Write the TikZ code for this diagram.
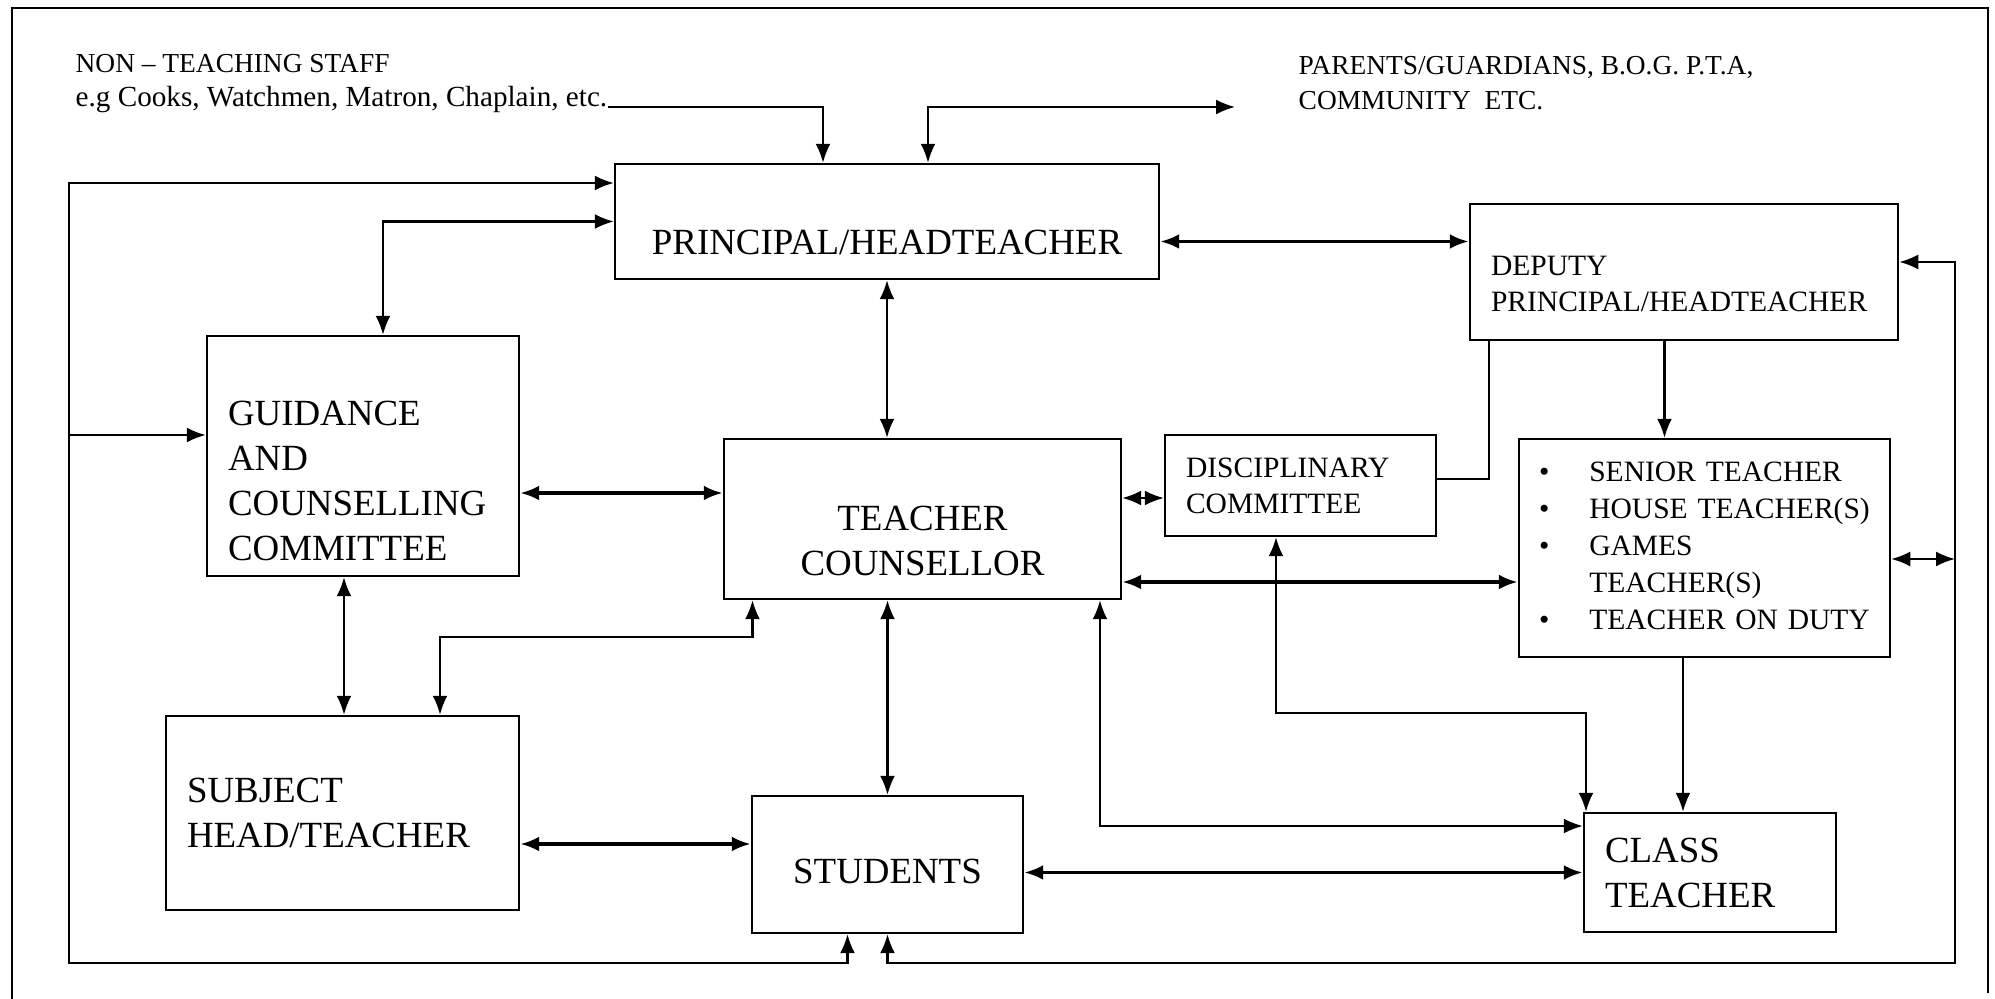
\documentclass[tikz,border=0pt]{standalone}
\usepackage{fontspec}
\setmainfont{Liberation Serif}
\usetikzlibrary{arrows.meta}

\begin{document}
\begin{tikzpicture}[
    >={Latex[length=1.9mm, width=1.5mm]},
    box/.style={rectangle, draw, line width=0.7pt, inner xsep=2.1mm, inner ysep=0pt, align=left, font=\fontsize{10.5}{12.8}\selectfont},
    smallbox/.style={box, font=\fontsize{8.4}{10.2}\selectfont},
    note/.style={anchor=base west, inner sep=0pt, font=\fontsize{7.8}{9.5}\selectfont},
    arrow/.style={->, line width=0.6pt},
    twoway/.style={<->, line width=0.6pt},
    link/.style={line width=0.6pt},
    boldline/.style={line width=1pt},
]

%Background
\useasboundingbox (0,0) rectangle (19.95,9.99);
\fill[white] (0,0) rectangle (19.95,9.99);
\draw[line width=0.6pt] (0.12,0) -- (0.12,9.91) -- (19.88,9.91) -- (19.88,0.06);

% Outside groups
\node[note] (staff) at (0.75,9.26) {NON -- TEACHING STAFF};
\node[note, font=\fontsize{8.3}{9.5}\selectfont] (staff_eg) at (0.75,8.92) {e.g Cooks, Watchmen, Matron, Chaplain, etc.};
\node[note] (parents) at (12.98,9.24) {PARENTS/GUARDIANS, B.O.G. P.T.A,};
\node[note] (community) at (12.98,8.89) {COMMUNITY~~ETC.};

% Heads
\node[box, minimum width=5.44cm, minimum height=1.15cm, text height=0.66cm] (principal) at (8.87,7.775) {PRINCIPAL/HEADTEACHER};
\node[smallbox, minimum width=4.28cm, minimum height=1.36cm, text width=3.86cm, text height=0.44cm] (deputy) at (16.84,7.27) {DEPUTY\\PRINCIPAL/HEADTEACHER};

% Middle row
\node[box, minimum width=3.12cm, minimum height=2.4cm, text width=2.7cm, text height=0.75cm] (guidance) at (3.63,5.43) {GUIDANCE\\AND\\COUNSELLING\\COMMITTEE};
\node[box, minimum width=3.97cm, minimum height=1.6cm, text width=3.55cm, align=center, text height=0.69cm] (counsellor) at (9.225,4.80) {TEACHER\\COUNSELLOR};
\node[smallbox, minimum width=2.71cm, minimum height=1.01cm, text width=2.29cm] (disciplinary) at (13.005,5.135) {DISCIPLINARY\\COMMITTEE};
\node[smallbox, minimum width=3.71cm, minimum height=2.18cm, inner xsep=2mm, text width=3.31cm, font=\fontsize{8.4}{10.5}\selectfont] (duties) at (17.045,4.51) {%
  \begin{tabular}{@{}l@{\hspace{4mm}}l@{}}
    \textbullet & SENIOR TEACHER\\
    \textbullet & HOUSE TEACHER(S)\\
    \textbullet & GAMES\\
                & TEACHER(S)\\
    \textbullet & TEACHER ON DUTY
  \end{tabular}};

% Bottom row
\node[box, minimum width=3.53cm, minimum height=1.94cm, text width=3.11cm] (subject) at (3.425,1.86) {SUBJECT\\HEAD/TEACHER};
\node[box, minimum width=2.71cm, minimum height=1.37cm, text height=0.39cm] (students) at (8.875,1.345) {STUDENTS};
\node[box, minimum width=2.52cm, minimum height=1.19cm, text width=2.1cm] (classteacher) at (17.10,1.265) {CLASS\\TEACHER};

% Loop corners
\coordinate (loop_sw) at (0.69,0.36);
\coordinate (loop_se) at (19.55,0.36);

% Arrows
\draw[arrow] (staff_eg.base east) -| ([xshift=-6.4mm]principal.north);
\draw[twoway] ([xshift=4.1mm]principal.north) |- ([xshift=-6.3mm, yshift=0.3mm]community.base west);

% Left loops
\draw[twoway] ([xshift=-4mm]students.south) |- (loop_sw) |- ([yshift=3.85mm]principal.west);
\draw[arrow] ([yshift=2.1mm]loop_sw |- guidance.west) -- ([yshift=2.1mm]guidance.west);
\draw[twoway] ([xshift=2mm]guidance.north) |- (principal.west);

% Principal, guidance and counsellor
\draw[twoway, boldline] ([yshift=-2mm]principal.east) -- ([yshift=-2mm]principal.east -| deputy.west);
\draw[twoway] (principal.south) -- (principal.south |- counsellor.north);
\draw[twoway, boldline] ([yshift=2.6mm]counsellor.west -| guidance.east) -- ([yshift=2.6mm]counsellor.west);
\draw[twoway] ([xshift=-1.9mm]guidance.south) -- ([xshift=-1.9mm]guidance.south |- subject.north);
\draw[twoway] ([xshift=-1.7cm]counsellor.south) -- ++(0,-0.37) -| ([xshift=9.75mm]subject.north);
\draw[twoway] (students.north |- counsellor.south) -- (students.north);
\draw[twoway, boldline] ([yshift=-3.1mm]subject.east) -- ([yshift=-3.1mm]subject.east -| students.west);

% Right side
\draw[twoway] ([yshift=-1.25mm]disciplinary.west -| counsellor.east) -- ([yshift=-1.25mm]disciplinary.west);
\draw[link] ([yshift=0.65mm]disciplinary.east) -| ([xshift=-1.95cm]deputy.south);
\draw[arrow] ([xshift=-4mm]duties.north |- deputy.south) -- ([xshift=-4mm]duties.north);
\draw[twoway, boldline] ([yshift=-6.3mm]counsellor.east) -- ([yshift=-6.3mm]counsellor.east -| duties.west);
\draw[twoway] ([xshift=-2.45mm]disciplinary.south) -- ++(0,-1.76) -| ([xshift=-1.24cm]classteacher.north);
\draw[twoway] ([xshift=1.775cm]counsellor.south) |- ([yshift=4.65mm]classteacher.west);
\draw[arrow] ([xshift=-2.15mm]duties.south) -- ([xshift=-2.15mm]duties.south |- classteacher.north);
\draw[twoway, boldline] (classteacher.west -| students.east) -- (classteacher.west);

% Right loop
\draw[twoway] (students.south) |- (loop_se) |- ([yshift=1mm]deputy.east);
\draw[twoway] ([yshift=-1.1mm]duties.east) -- ([yshift=-1.1mm]duties.east -| loop_se);

\end{tikzpicture}
\end{document}
